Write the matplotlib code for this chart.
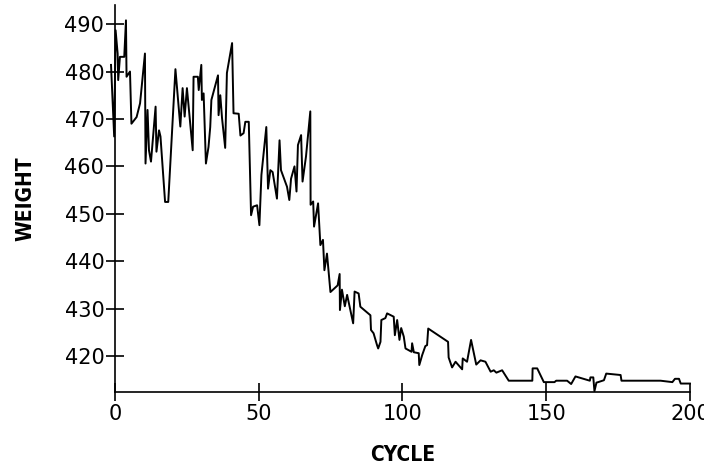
import matplotlib
matplotlib.use("Agg")
import matplotlib.pyplot as plt

# weight per cycle
cycle = [-1.3, -0.2, 0.3, 1.0, 1.2, 1.8, 3.3, 3.9, 4.1, 5.3, 5.8, 7.6, 8.8, 10.5, 10.7,
         11.4, 11.9, 12.6, 14.2, 14.5, 15.4, 15.9, 17.5, 18.6, 21.1, 22.8, 23.6, 24.3,
         25.1, 27.1, 27.4, 28.9, 29.2, 30.1, 30.3, 30.9, 31.7, 32.6, 33.2, 33.6, 35.9,
         36.1, 36.7, 37.3, 38.4, 39.0, 40.8, 41.3, 43.1, 43.7, 44.8, 45.4, 46.6, 47.4,
         48.1, 49.5, 50.3, 51.0, 52.7, 53.3, 54.1, 54.9, 56.4, 57.3, 57.8, 59.9, 60.7,
         61.3, 62.5, 63.2, 63.7, 64.8, 65.3, 66.5, 68.0, 68.1, 69.0, 69.3, 70.7, 71.5,
         72.4, 72.9, 73.8, 75.0, 77.5, 78.2, 78.3, 79.0, 80.0, 80.8, 82.9, 83.4, 84.8,
         85.4, 88.9, 89.1, 90.0, 91.2, 91.6, 92.4, 92.7, 94.1, 94.7, 97.0, 97.4, 98.2,
         99.0, 99.6, 100.5, 101.1, 103.2, 103.4, 104.0, 105.7, 105.9, 106.9, 108.0,
         108.6, 109.0, 115.9, 116.1, 117.3, 118.5, 120.8, 121.0, 122.5, 123.9, 125.7,
         127.2, 128.9, 130.7, 131.8, 132.7, 134.7, 137.0, 145.2, 145.3, 146.9, 149.2,
         152.9, 153.5, 157.3, 158.7, 160.2, 165.2, 165.4, 166.4, 166.8, 167.5, 168.1,
         170.1, 170.9, 175.9, 176.2, 189.8, 193.9, 194.8, 196.2, 196.8, 200.0]
weight = [481.4, 466.3, 488.7, 483.8, 478.2, 483.1, 483.1, 490.8, 478.9, 480.0, 469.0,
          470.4, 473.3, 483.8, 460.6, 471.9, 463.4, 461.0, 472.6, 463.1, 467.6, 466.3,
          452.5, 452.5, 480.5, 468.4, 476.5, 470.5, 476.5, 463.4, 478.9, 478.9, 476.1,
          481.4, 474.0, 475.4, 460.6, 464.1, 468.3, 474.0, 479.2, 470.8, 475.0, 470.2,
          463.9, 479.7, 486.0, 471.2, 471.1, 466.5, 467.0, 469.4, 469.4, 449.7, 451.5,
          451.8, 447.6, 458.2, 468.3, 455.3, 459.2, 458.8, 453.2, 465.5, 459.2, 455.7,
          452.9, 457.4, 460.0, 454.7, 464.5, 466.6, 456.8, 462.1, 471.6, 451.9, 452.6,
          447.3, 452.2, 443.4, 444.5, 438.1, 441.6, 433.5, 434.9, 437.3, 429.7, 434.0,
          430.5, 432.9, 426.9, 433.6, 433.2, 430.4, 428.6, 425.5, 424.8, 422.3, 421.6,
          423.0, 427.6, 428.0, 429.0, 428.3, 424.4, 427.6, 423.4, 425.9, 424.1, 421.6,
          420.9, 422.7, 420.8, 420.6, 418.1, 420.2, 422.1, 422.3, 425.8, 423.0, 419.7,
          417.6, 418.8, 417.2, 419.5, 418.8, 423.4, 418.2, 419.1, 418.8, 416.7, 417.0,
          416.5, 417.0, 414.8, 414.8, 417.4, 417.4, 414.5, 414.5, 414.8, 414.8, 414.1,
          415.7, 414.8, 415.5, 415.5, 412.6, 414.4, 414.5, 414.9, 416.3, 416.0, 414.8,
          414.8, 414.5, 415.2, 415.2, 414.2, 414.2]

x_ticks = [0, 50, 100, 150, 200]
y_ticks = [420, 430, 440, 450, 460, 470, 480, 490]

fig = plt.figure(figsize=(7.04, 4.69), dpi=100)
ax = fig.add_axes([0.163, 0.164, 0.817, 0.825])

ax.plot(cycle, weight, color="black", linewidth=1.4, clip_on=False)

ax.set_xlim(0, 200)
ax.set_ylim(412.4, 494)
ax.set_xticks(x_ticks)
ax.set_yticks(y_ticks)

for side in ["top", "right"]:
    ax.spines[side].set_visible(False)
for side in ["left", "bottom"]:
    ax.spines[side].set_linewidth(1.2)

ax.tick_params(direction="inout", length=13, width=1.2, labelsize=15, pad=2)
ax.tick_params(axis="y", pad=1)

ax.set_xlabel("CYCLE", fontsize=15, fontweight="bold", fontstretch="condensed",
              labelpad=15)
ax.set_ylabel("WEIGHT", fontsize=15, fontweight="bold", fontstretch="condensed",
              labelpad=21)

fig.savefig("out.png", dpi=100)
